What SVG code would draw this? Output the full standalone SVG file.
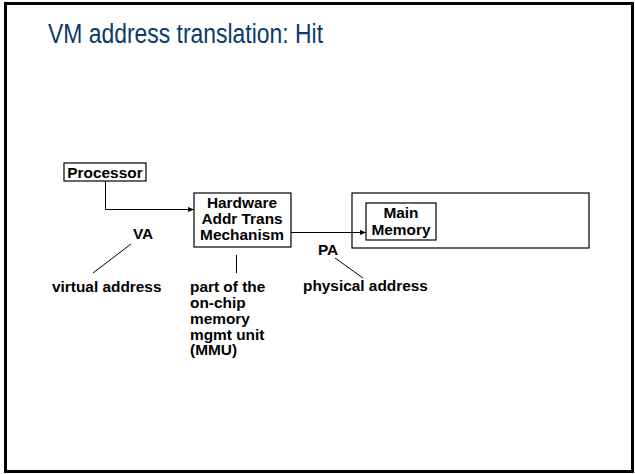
<svg xmlns="http://www.w3.org/2000/svg" width="635" height="474" viewBox="0 0 635 474">
<style>
.t{font-family:"Liberation Sans",Arial,sans-serif;font-weight:bold;font-size:15.4px;fill:#000}
.c{text-anchor:middle}
.box{fill:#fff;stroke:#000;stroke-width:1.2}
.ln{fill:none;stroke:#000;stroke-width:1}
</style>
<defs>
<marker id="ah" markerWidth="6" markerHeight="6" refX="6" refY="3" orient="auto" markerUnits="userSpaceOnUse">
<path d="M0,0.5 L6,3 L0,5.5 Z" fill="#000"/>
</marker>
</defs>
<rect x="0" y="0" width="635" height="474" fill="#fff"/>
<rect x="5.5" y="3.5" width="627" height="468" fill="none" stroke="#000" stroke-width="3"/>
<text x="48" y="43" font-family="Liberation Sans,Arial,sans-serif" font-size="27" fill="#0b3a6b" textLength="275" lengthAdjust="spacingAndGlyphs">VM address translation: Hit</text>
<g id="memsys"><rect class="box" x="352" y="193" width="237" height="55"/></g>
<g id="processor"><rect class="box" x="64" y="163" width="82" height="18"/><text class="t c" x="105" y="177.5">Processor</text></g>
<g id="mmu"><rect class="box" x="194" y="193" width="97" height="54"/><text class="t c" x="242" y="208">Hardware</text><text class="t c" x="242" y="224">Addr Trans</text><text class="t c" x="242" y="240">Mechanism</text></g>
<g id="mainmem"><rect class="box" x="366" y="203" width="70" height="37"/><text class="t c" x="401" y="218">Main</text><text class="t c" x="401" y="235">Memory</text></g>
<g id="connectors">
<path class="ln" d="M105.5,181 V209.5 H194" marker-end="url(#ah)"/>
<path class="ln" d="M291,232.5 H366" marker-end="url(#ah)"/>
<path class="ln" d="M131,244 L93,273"/>
<path class="ln" d="M236.5,255 V273"/>
<path class="ln" d="M335,258 L363,278"/>
</g>
<g id="labels">
<text class="t c" x="143" y="239">VA</text>
<text class="t c" x="328" y="255">PA</text>
<text class="t" x="52" y="292">virtual address</text>
<text class="t" x="303" y="291">physical address</text>
<text class="t" x="190" y="292">part of the</text>
<text class="t" x="190" y="308">on-chip</text>
<text class="t" x="190" y="323.5">memory</text>
<text class="t" x="190" y="339.5">mgmt unit</text>
<text class="t" x="190" y="355">(MMU)</text>
</g>
</svg>
